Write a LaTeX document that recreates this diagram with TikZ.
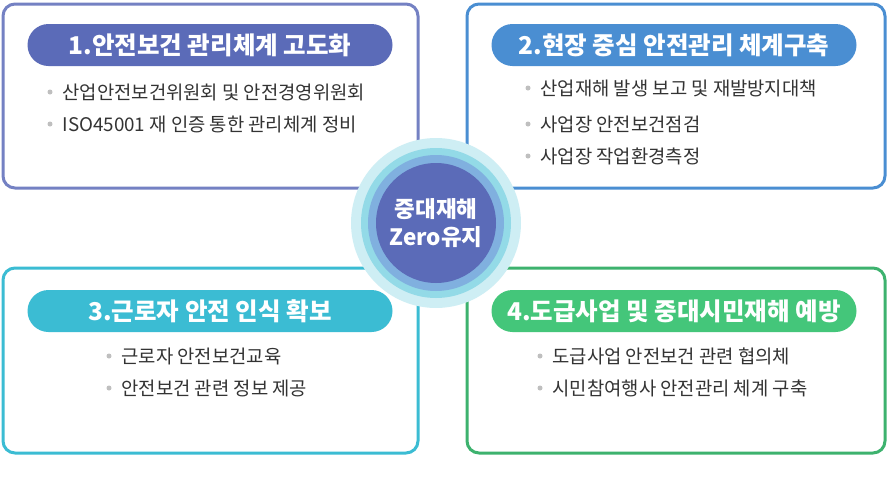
\documentclass[tikz,border=0pt]{standalone}
\usepackage{fontspec}
\setmainfont{Noto Sans CJK KR}
\begin{document}
\begin{tikzpicture}[x=1pt,y=-1pt,
  card/.style={draw=#1,line width=3pt,rounded corners=12pt,fill=white},
  pill/.style={fill=#1,rounded corners=21pt,minimum width=365pt,minimum height=42pt,text=white,font=\fontsize{24.5}{25}\selectfont\bfseries},
  item/.style={anchor=west,font=\fontsize{18.8}{19}\selectfont,text=black!80},
  dot/.style={circle,fill=black!25,inner sep=0pt,minimum size=5pt}]
\useasboundingbox (0,0) rectangle (895,477);
\definecolor{c1}{HTML}{5B6BB8}\definecolor{c2}{HTML}{4A8ED2}
\definecolor{c3}{HTML}{3BBCD3}\definecolor{c4}{HTML}{44C67A}
\draw[card=c1!85] (3,4) rectangle (418,188);
\draw[card=c2] (467,4) rectangle (885,188);
\draw[card=c3] (3,268) rectangle (418,453);
\draw[card=c4!90!black] (467,268) rectangle (885,453);
\node[pill=c1] (p1) at (210,45) {1.안전보건 관리체계 고도화};
\node[pill=c2] (p2) at (674,45) {2.현장 중심 안전관리 체계구축};
\node[pill=c3] (p3) at (210,311) {3.근로자 안전 인식 확보};
\node[pill=c4] (p4) at (674,311) {4.도급사업 및 중대시민재해 예방};
\foreach \x/\y/\t in {63/92/산업안전보건위원회 및 안전경영위원회, 63/124/ISO45001 재 인증 통한 관리체계 정비,
 541/88/산업재해 발생 보고 및 재발방지대책, 541/124/사업장 안전보건점검, 541/156/사업장 작업환경측정,
 122/356/근로자 안전보건교육, 122/388/안전보건 관련 정보 제공,
 553/356/도급사업 안전보건 관련 협의체, 553/388/시민참여행사 안전관리 체계 구축}
 {\node[dot] at (\x-13,\y) {}; \node[item] at (\x-4,\y) {\t};}
\fill[fill=c3!25] (436,223) circle (85);
\fill[fill=c3!55] (436,223) circle (75);
\fill[fill=c2!70] (436,223) circle (68);
\node[circle,fill=c1,minimum size=120pt,text=white,align=center,font=\fontsize{22.5}{28}\selectfont\bfseries] (c) at (436,223) {중대재해\\Zero유지};
\end{tikzpicture}
\end{document}
